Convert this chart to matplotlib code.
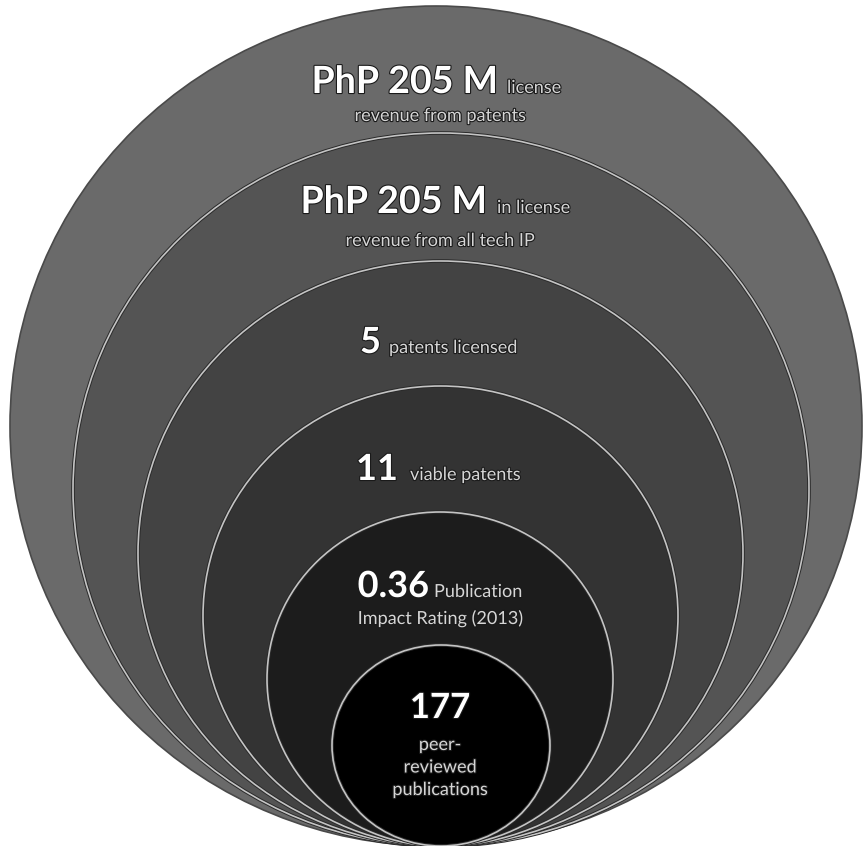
import matplotlib
matplotlib.use("Agg")
import matplotlib.pyplot as plt
from matplotlib.patches import Ellipse
import matplotlib.patheffects as pe

# ---- data ----
values = ["PhP 205 M", "PhP 205 M", "5", "11", "0.36", "177"]
inline_desc = ["license", "in license", "patents licensed", "viable patents", "Publication", ""]
below_desc = ["revenue from patents", "revenue from all tech IP", "", "", "Impact Rating (2013)",
              "peer-\nreviewed\npublications"]

# ---- layout (pixel coords) ----
# ellipse bounds: left, right, top, bottom
bounds = [(10, 862, 6, 846), (73, 809, 133, 846), (138, 743, 261, 846),
          (203, 678, 386, 846), (267, 613, 512, 846), (332, 550, 645, 846)]
fills = ["#6a6a6a", "#545454", "#434343", "#333333", "#1c1c1c", "#000000"]
# big value: right edge x, baseline y ; inline desc left x ; below desc baseline
big_pos = [(498, 93), (487, 213), (381, 353), (398, 480), (429, 597), (None, 718)]
inline_x = [507, 497, 389, 410, 434, None]
below_y = [121, 246, None, None, 624, 750]
big_sizes = [27, 27, 26, 26, 26, 25]

W, H = 865, 846
fig = plt.figure(figsize=(W / 100, H / 100), dpi=100)
ax = fig.add_axes([0, 0, 1, 1])
ax.set_xlim(0, W)
ax.set_ylim(H, 0)
ax.set_aspect("equal")
ax.axis("off")

for i, ((l, r, t, b), c) in enumerate(zip(bounds, fills)):
    cx, cy = (l + r) / 2, (t + b) / 2
    w, h = r - l, b - t
    if i == 0:
        ax.add_patch(Ellipse((cx, cy), w, h, facecolor=c, edgecolor="#4a4a4a", lw=1.2, zorder=i))
    else:
        ax.add_patch(Ellipse((cx, cy), w, h, facecolor=c, edgecolor="#2a2a2a", lw=2.6, zorder=i))
        ax.add_patch(Ellipse((cx, cy), w, h, facecolor="none", edgecolor="#c4c4c4", lw=1.2, zorder=i + 0.1))

FONT = "Lato"
SMALL = 13
shadow = [pe.withStroke(linewidth=1.6, foreground="#1a1a1a")]
for i in range(len(values)):
    bx, by = big_pos[i]
    if bx is None:
        ax.text(440, by, values[i], ha="center", va="baseline", fontsize=big_sizes[i], fontweight="bold",
                color="white", family=FONT, zorder=20, path_effects=shadow)
    else:
        ax.text(bx, by, values[i], ha="right", va="baseline", fontsize=big_sizes[i], fontweight="bold",
                color="white", family=FONT, zorder=20, path_effects=shadow)
    if inline_x[i] is not None and inline_desc[i]:
        ax.text(inline_x[i], by, inline_desc[i], ha="left", va="baseline", fontsize=SMALL,
                color="#d6d6d6", family=FONT, zorder=20, path_effects=shadow)
    if below_y[i] is not None and below_desc[i]:
        for k, line in enumerate(below_desc[i].split("\n")):
            ax.text(440, below_y[i] + k * 22.5, line, ha="center", va="baseline", fontsize=SMALL,
                    color="#d6d6d6", family=FONT, zorder=20, path_effects=shadow)

fig.savefig("out.png", dpi=100, facecolor="white")
